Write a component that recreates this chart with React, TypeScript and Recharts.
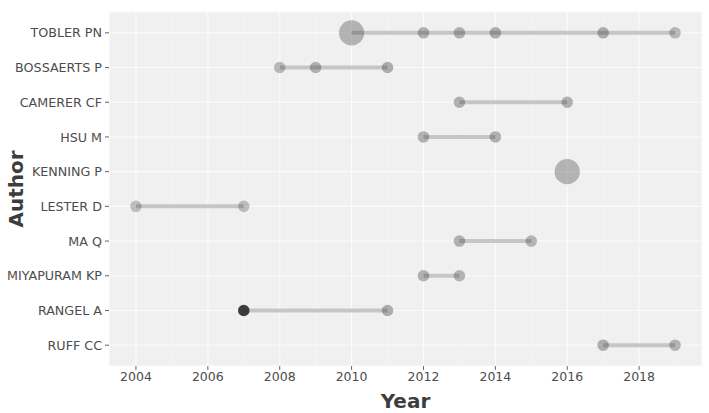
import React from "react";
import {
  ScatterChart,
  Scatter,
  XAxis,
  YAxis,
  ZAxis,
  CartesianGrid,
  Cell,
  ReferenceLine,
} from "recharts";

// ---- data ----
const authors: string[] = [
  "TOBLER PN",
  "BOSSAERTS P",
  "CAMERER CF",
  "HSU M",
  "KENNING P",
  "LESTER D",
  "MA Q",
  "MIYAPURAM KP",
  "RANGEL A",
  "RUFF CC",
];

const years: number[][] = [
  [2010, 2012, 2013, 2014, 2017, 2019],
  [2008, 2009, 2011],
  [2013, 2016],
  [2012, 2014],
  [2016],
  [2004, 2007],
  [2013, 2015],
  [2012, 2013],
  [2007, 2011],
  [2017, 2019],
];

// number of articles (point size)
const articles: number[][] = [
  [3, 1, 1, 1, 1, 1],
  [1, 1, 1],
  [1, 1],
  [1, 1],
  [3],
  [1, 1],
  [1, 1],
  [1, 1],
  [1, 1],
  [1, 1],
];

// citations per year (point darkness)
const tcPerYear: number[][] = [
  [0.33, 0.35, 0.35, 0.36, 0.36, 0.3],
  [0.3, 0.35, 0.36],
  [0.34, 0.35],
  [0.34, 0.35],
  [0.32],
  [0.28, 0.28],
  [0.34, 0.32],
  [0.35, 0.33],
  [0.95, 0.36],
  [0.36, 0.33],
];

const xTicks: number[] = [2004, 2006, 2008, 2010, 2012, 2014, 2016, 2018];
const xMinorTicks: number[] = [2005, 2007, 2009, 2011, 2013, 2015, 2017, 2019];
const yTicks: number[] = authors.map((_, i) => i + 1);

// build tables
const points = authors.flatMap((a, i) =>
  years[i].map((yr, j) => ({
    year: yr,
    pos: i + 1,
    n: articles[i][j],
    tc: tcPerYear[i][j],
    author: a,
  }))
);

const segments = authors.map((a, i) => [
  { year: Math.min(...years[i]), pos: i + 1 },
  { year: Math.max(...years[i]), pos: i + 1 },
]);

const FONT = "'DejaVu Sans', Verdana, sans-serif";

const EmptyShape = () => <g />;

const AuthorTick = (props: any) => {
  const { x, y, payload } = props;
  return (
    <text
      x={x - 1}
      y={y}
      dy="0.36em"
      textAnchor="end"
      fill="#4d4d4d"
      fontSize={12.7}
      fontFamily={FONT}
    >
      {authors[payload.value - 1] ?? ""}
    </text>
  );
};

export default function App() {
  return (
    <div style={{ position: "absolute", left: 0, top: 0, width: 709, height: 413, background: "#fff" }}>
      <ScatterChart
        width={709}
        height={413}
        margin={{ top: 12, right: 7, bottom: 0, left: 0 }}
      >
        <CartesianGrid
          fill="#f0f0f0"
          stroke="#fbfbfb"
          strokeWidth={1.1}
          strokeDasharray=""
        />
        {xMinorTicks.map((t) => (
          <ReferenceLine key={t} x={t} stroke="#f6f6f6" strokeWidth={0.6} />
        ))}
        <XAxis
          type="number"
          dataKey="year"
          domain={[2003.25, 2019.75]}
          ticks={xTicks}
          allowDataOverflow
          height={47}
          axisLine={false}
          tickLine={{ stroke: "#666666" }}
          tickSize={4}
          tick={{ fill: "#4d4d4d", fontSize: 12.5, fontFamily: FONT }}
          label={{
            content: (props: any) => {
              const vb = props.viewBox;
              return (
                <text
                  x={vb.x + vb.width / 2}
                  y={408}
                  textAnchor="middle"
                  fill="#3d3d3d"
                  fontSize={20}
                  fontWeight="bold"
                  fontFamily={FONT}
                >
                  Year
                </text>
              );
            },
          }}
        />
        <YAxis
          type="number"
          dataKey="pos"
          domain={[0.4, 10.6]}
          reversed
          ticks={yTicks}
          interval={0}
          width={109}
          axisLine={false}
          tickLine={{ stroke: "#666666" }}
          tickSize={4}
          tick={<AuthorTick />}
          label={{
            content: (props: any) => {
              const vb = props.viewBox;
              const cy = vb.y + vb.height / 2;
              return (
                <text
                  x={23}
                  y={cy}
                  transform={`rotate(-90, 23, ${cy})`}
                  textAnchor="middle"
                  fill="#3d3d3d"
                  fontSize={20}
                  fontWeight="bold"
                  fontFamily={FONT}
                >
                  Author
                </text>
              );
            },
          }}
        />
        <ZAxis type="number" dataKey="n" domain={[1, 3]} range={[105, 500]} />
        {segments.map((seg, i) => (
          <Scatter
            key={"seg" + i}
            data={seg}
            line={{ stroke: "#c6c6c6", strokeWidth: 4 }}
            shape={EmptyShape}
            isAnimationActive={false}
          />
        ))}
        <Scatter data={points} isAnimationActive={false}>
          {points.map((p, i) => (
            <Cell key={i} fill="#333333" fillOpacity={p.tc} />
          ))}
        </Scatter>
      </ScatterChart>
    </div>
  );
}
